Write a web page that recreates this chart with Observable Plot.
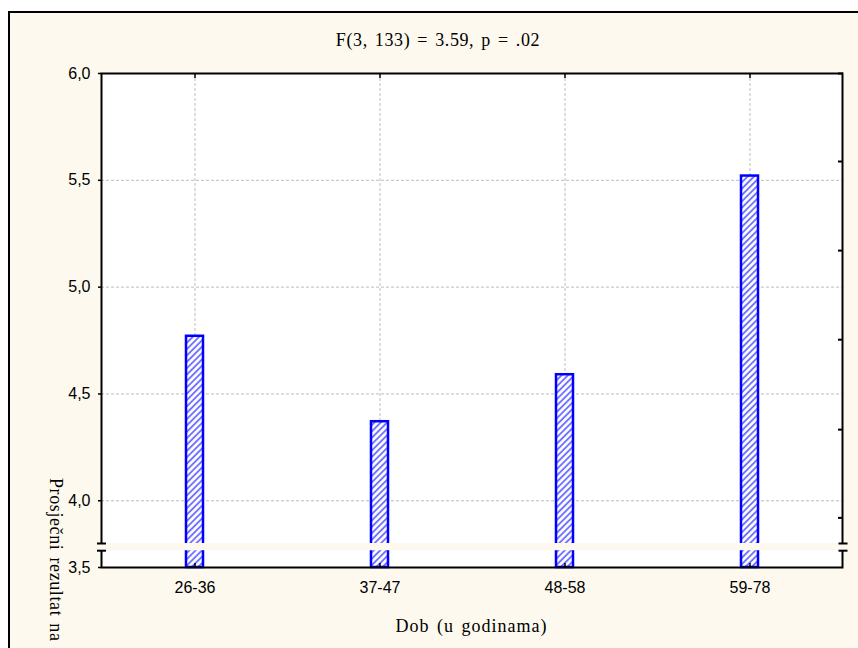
<!DOCTYPE html>
<html>
<head>
<meta charset="utf-8">
<script src="https://cdn.jsdelivr.net/npm/d3@7"></script>
<script src="https://cdn.jsdelivr.net/npm/@observablehq/plot@0.6"></script>
<style>
  html, body { margin: 0; padding: 0; background: #ffffff; overflow: hidden; width: 858px; height: 648px; }
  #frame { position: absolute; left: 8px; top: 11px; width: 870px; height: 660px; border: 2px solid #000; background: #fdf9ee; }
  #title { position: absolute; left: 0; width: 876px; top: 30px; text-align: center; font-family: "Liberation Serif", "Times New Roman", serif; font-size: 18px; letter-spacing: 0.6px; word-spacing: 2px; color: #000; }
  #xlabel { position: absolute; left: 101px; width: 741px; top: 616px; text-align: center; font-family: "Liberation Serif", "Times New Roman", serif; font-size: 18px; letter-spacing: 1px; word-spacing: 2px; color: #000; }
  #ylabel { position: absolute; left: 65px; top: 478px; transform: rotate(90deg); transform-origin: 0 0; white-space: nowrap; line-height: 18px; font-family: "Liberation Serif", "Times New Roman", serif; font-size: 18px; letter-spacing: 0.6px; word-spacing: 2px; color: #000; }
  #chart { position: absolute; left: 0; top: 0; }
</style>
</head>
<body>
<div id="frame"></div>
<div id="title">F(3, 133) = 3.59, p = .02</div>
<div id="chart"></div>
<div id="xlabel">Dob (u godinama)</div>
<div id="ylabel">Prosječni rezultat na</div>
<script>
// ---- data ----
const categories = ["26-36", "37-47", "48-58", "59-78"];
const means = [4.77, 4.37, 4.59, 5.52];
const yTicks = [3.5, 4.0, 4.5, 5.0, 5.5, 6.0];
const yTickLabels = ["3,5", "4,0", "4,5", "5,0", "5,5", "6,0"];
const yGrid = [4.0, 4.5, 5.0, 5.5];
const rightTicks = [6.0, 5.588, 5.171, 4.754, 4.333, 3.92];
const breakRange = [3.71, 3.80];
const yBase = 3.5;
const yDomain = [3.5, 3.8, 6.0];

const data = categories.map((c, i) => ({category: c, mean: means[i]}));
const labelOf = new Map(yTicks.map((t, i) => [t, yTickLabels[i]]));

const W = 858, H = 648;
const mL = 101, mT = 73, mR = 16, mB = 81;

const plot = Plot.plot({
  width: W,
  height: H,
  marginLeft: mL,
  marginTop: mT,
  marginRight: mR,
  marginBottom: mB,
  style: {background: "transparent", fontFamily: "'Liberation Sans', Arial, sans-serif", fontSize: "16px", color: "#000"},
  x: {type: "band", domain: categories, paddingInner: 0.91, paddingOuter: 0.455, label: null},
  y: {type: "linear", domain: yDomain, range: [H - mB, 543, mT], label: null},
  marks: [
    Plot.frame({fill: "#ffffff"}),
    Plot.gridX({stroke: "#bdbdbd", strokeOpacity: 1, strokeDasharray: "3,2"}),
    Plot.gridY(yGrid, {stroke: "#bdbdbd", strokeOpacity: 1, strokeDasharray: "3,2"}),
    Plot.barY(data, {x: "category", y1: () => yBase, y2: "mean", fill: "url(#hatch)", stroke: "#0000ff", strokeWidth: 2.5}),
    Plot.frame({stroke: "#000", strokeWidth: 2}),
    Plot.rectY([{lo: breakRange[0], hi: breakRange[1]}], {y1: "lo", y2: "hi", fill: "#fdf9ee", insetLeft: -4, insetRight: -4}),
    Plot.axisY(yTicks, {anchor: "left", tickSize: 3, tickPadding: 8, tickFormat: d => labelOf.get(d), label: null, strokeWidth: 1.5}),
    Plot.axisY(rightTicks, {anchor: "right", tickSize: 5, dx: -5, tickFormat: () => "", label: null, strokeWidth: 2}),
    Plot.axisY(breakRange, {anchor: "left", tickSize: 9, dx: 5, tickFormat: () => "", label: null, strokeWidth: 2}),
    Plot.axisY(breakRange, {anchor: "right", tickSize: 9, dx: -4.5, tickFormat: () => "", label: null, strokeWidth: 2}),
    Plot.axisX({anchor: "bottom", tickSize: 0, tickPadding: 14, label: null}),
    Plot.axisX({anchor: "bottom", tickSize: 4, dy: -4, tickFormat: () => "", label: null, strokeWidth: 1.5}),
    Plot.axisX({anchor: "top", tickSize: 4, dy: 4, tickFormat: () => "", label: null, strokeWidth: 1.5})
  ]
});

d3.select(plot).insert("defs", ":first-child").html(
  '<pattern id="hatch" patternUnits="userSpaceOnUse" width="4.5" height="4.5" patternTransform="rotate(45)">' +
  '<rect width="4.5" height="4.5" fill="#ffffff"/>' +
  '<line x1="1" y1="0" x2="1" y2="4.5" stroke="#6a6aff" stroke-width="1.8"/>' +
  '</pattern>'
);

document.getElementById("chart").appendChild(plot);
</script>
</body>
</html>
